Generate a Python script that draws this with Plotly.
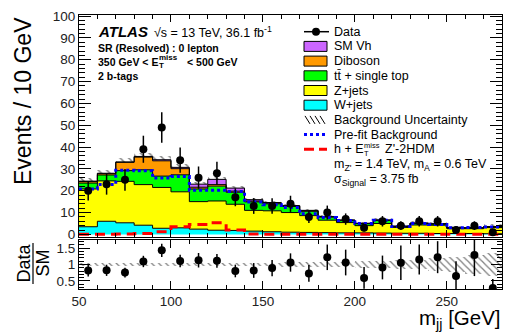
import numpy as np
import plotly.graph_objects as go

# ---------------- data ----------------
edges = list(range(50, 290, 10))               # bin edges 50..280 GeV
centers = [e + 5 for e in edges[:-1]]          # bin centres

data = [20, 23, 25, 39, 49, 34, 26, 28, 17, 13, 13, 14, 8, 10, 7, 3, 6, 4, 6, 6, 2, 4, 1]
data_err = [4.5, 4.8, 5.0, 6.2, 7.0, 5.8, 5.1, 5.3, 4.1, 3.6, 3.6, 3.7, 2.8, 3.2, 2.6,
            1.7, 2.4, 2.0, 2.4, 2.4, 1.4, 2.0, 1.0]

w_jets = [3.5, 6.0, 5.3, 4.2, 2.8, 3.0, 2.4, 1.9, 1.8, 1.5, 1.2, 1.0, 0.9, 0.8, 0.7,
          0.7, 0.6, 0.5, 0.5, 0.4, 0.4, 0.4, 0.3]
z_jets = [17.3, 18.5, 19.0, 18.6, 18.7, 16.5, 12.6, 13.4, 12.0, 9.5, 9.6, 9.0, 7.7, 5.7, 4.7,
          3.3, 4.4, 2.7, 3.8, 3.8, 2.2, 2.2, 2.8]
ttbar = [2.7, 2.7, 4.9, 6.8, 5.2, 7.8, 5.8, 6.8, 5.5, 3.9, 3.2, 2.8, 2.0, 1.4, 0.9,
         0.9, 1.4, 0.4, 0.7, 0.5, 0.3, 0.3, 0.3]
diboson = [0.7, 0.6, 3.8, 5.8, 7.0, 2.8, 0.8, 0.7, 0.5, 0.4, 0.3, 0.2, 0.2, 0.2, 0.2,
           0.1, 0.1, 0.1, 0.1, 0.1, 0.1, 0.1, 0.1]
sm_vh = [0.2, 0.2, 0.2, 0.3, 0.5, 0.6, 1.4, 2.4, 1.4, 0.6, 0.3, 0.2, 0.2, 0.1, 0.1,
         0.1, 0.1, 0.1, 0.1, 0.1, 0.1, 0.1, 0.1]
prefit = [20.8, 22.8, 29.4, 29.2, 25.8, 26.5, 20.2, 20.2, 19.6, 14.8, 13.6, 12.3, 9.5, 7.7, 6.4,
          5.0, 6.5, 3.6, 5.0, 4.5, 3.0, 3.2, 3.4]
signal = [0.1, 0.1, 0.2, 0.4, 1.2, 3.5, 4.5, 5.3, 2.0, 0.2, 0.1, 0.1, 0.1, 0.1, 0.1,
          0.1, 0.1, 0.1, 0.1, 0.1, 0.1, 0.1, 0.1]
bkg_rel_unc = [0.05, 0.05, 0.05, 0.05, 0.05, 0.05, 0.05, 0.05, 0.055, 0.06, 0.06, 0.065,
               0.07, 0.08, 0.09, 0.10, 0.12, 0.13, 0.15, 0.19, 0.24, 0.30, 0.34]

x_ticks = [50, 100, 150, 200, 250]

# ---------------- styling / geometry ----------------
W, H = 508, 333
L, R, T, B = 79, 502, 15, 289
FONT = "Liberation Sans, Arial, Helvetica, sans-serif"


def px(x):
    return (x - L) / (R - L)


def py(y):
    return (B - y) / (B - T)


def step(v):
    v = list(v)
    return v + [v[-1]]


fig = go.Figure()

# stacked backgrounds (bottom -> top)
comps = [(w_jets, "#00ffff"), (z_jets, "#ffff00"), (ttbar, "#00ff00"),
         (diboson, "#ff9900"), (sm_vh, "#cc66ff")]
cum = np.zeros(len(centers))
for i, (vals, col) in enumerate(comps):
    cum = cum + np.array(vals)
    fig.add_trace(go.Scatter(
        x=edges, y=step(cum), mode="lines",
        line=dict(color="black", width=1, shape="hv"),
        fill="tozeroy" if i == 0 else "tonexty", fillcolor=col,
        xaxis="x", yaxis="y", showlegend=False, hoverinfo="skip"))
total = cum
unc_abs = total * np.array(bkg_rel_unc)

# background uncertainty (hatched)
hatch = dict(shape="\\", fgcolor="black", bgcolor="rgba(0,0,0,0)", size=6, solidity=0.25)
fig.add_trace(go.Bar(
    x=centers, y=2 * unc_abs, base=total - unc_abs, width=10,
    marker=dict(color="rgba(0,0,0,0)", line=dict(width=0), pattern=hatch),
    xaxis="x", yaxis="y", showlegend=False, hoverinfo="skip"))

# pre-fit background
fig.add_trace(go.Scatter(
    x=edges, y=step(prefit), mode="lines",
    line=dict(color="#0000ff", width=3, dash="dot", shape="hv"),
    xaxis="x", yaxis="y", showlegend=False, hoverinfo="skip"))

# signal
fig.add_trace(go.Scatter(
    x=edges, y=step(signal), mode="lines",
    line=dict(color="#ff0000", width=3, dash="10px,6px", shape="hv"),
    xaxis="x", yaxis="y", showlegend=False, hoverinfo="skip"))

# data
fig.add_trace(go.Scatter(
    x=centers, y=data, mode="markers",
    marker=dict(color="black", size=8),
    error_y=dict(type="data", array=data_err, color="black", thickness=1.5, width=0),
    xaxis="x", yaxis="y", showlegend=False))

# ratio panel
hatch_r = dict(shape="\\", fgcolor="black", bgcolor="rgba(0,0,0,0)", size=5, solidity=0.25)
rel = np.array(bkg_rel_unc)
fig.add_trace(go.Bar(
    x=centers, y=2 * rel, base=1 - rel, width=10,
    marker=dict(color="rgba(0,0,0,0)", line=dict(width=0), pattern=hatch_r),
    xaxis="x2", yaxis="y2", showlegend=False, hoverinfo="skip"))
ratio = np.array(data) / total
ratio_err = np.array(data_err) / total
fig.add_trace(go.Scatter(
    x=centers, y=ratio, mode="markers",
    marker=dict(color="black", size=8),
    error_y=dict(type="data", array=ratio_err, color="black", thickness=1.5, width=0),
    xaxis="x2", yaxis="y2", showlegend=False))

# ---------------- axes ----------------
common = dict(showline=True, linecolor="black", linewidth=1, mirror="allticks",
              ticks="inside", tickcolor="black", tickwidth=1, showgrid=False,
              zeroline=False, tickfont=dict(family=FONT, size=13.5, color="#222"))

fig.update_layout(
    width=W, height=H,
    margin=dict(l=L, r=W - R, t=T, b=H - B, pad=0),
    paper_bgcolor="white", plot_bgcolor="white",
    barmode="overlay", bargap=0,
    font=dict(family=FONT, color="black"),
    xaxis=dict(common, domain=[0, 1], range=[50, 280], tickvals=x_ticks, ticklen=7,
               minor=dict(dtick=10, tick0=50, ticklen=4, ticks="inside", tickcolor="black"),
               showticklabels=False, anchor="y"),
    yaxis=dict(common, domain=[py(237), 1], range=[-1.2, 100.5], tick0=0, dtick=10, ticklen=12,
               minor=dict(dtick=2, tick0=0, ticklen=6, ticks="inside", tickcolor="black"),
               anchor="x"),
    xaxis2=dict(common, domain=[0, 1], range=[50, 280], tickvals=x_ticks, ticklen=8,
                minor=dict(dtick=10, tick0=50, ticklen=4, ticks="inside", tickcolor="black"),
                anchor="y2", matches="x"),
    yaxis2=dict(common, domain=[0, py(240)], range=[0.25, 1.75], tick0=0.5, dtick=0.5,
                ticklen=11, minor=dict(dtick=0.1, tick0=0, ticklen=5, ticks="inside",
                                       tickcolor="black"),
                anchor="x2"),
)

annots = []
shapes = []


def text(x, y, s, size, xanchor="left", angle=0, color="black", yanchor="middle"):
    annots.append(dict(x=px(x), y=py(y), xref="paper", yref="paper", text=s,
                       showarrow=False, xanchor=xanchor, yanchor=yanchor,
                       textangle=angle, borderpad=0,
                       font=dict(family=FONT, size=size, color=color)))


# axis titles
text(23, 101, "Events / 10 GeV", 23, xanchor="center", angle=-90)
text(502, 333, "m<sub>jj</sub> [GeV]", 20.5, xanchor="right", yanchor="bottom")
text(23.5, 263, "Data", 18, xanchor="center", angle=-90)
text(42.5, 263, "SM", 18, xanchor="center", angle=-90)
shapes.append(dict(type="line", xref="paper", yref="paper", x0=px(33), x1=px(33),
                   y0=py(243), y1=py(284), line=dict(color="black", width=1.2)))

# ATLAS labels
text(97, 31.5, "<b><i>ATLAS</i></b>", 15)
text(153, 32, "√s = 13 TeV, 36.1 fb<sup>-1</sup>", 12.5)
text(97, 48, "<b>SR (Resolved) : 0 lepton</b>", 10.5)
text(97, 62, "<b>350 GeV &lt; E</b>", 10.5)
text(158, 57.5, "<b>miss</b>", 8)
text(158, 65.5, "<b>T</b>", 8)
text(186, 62, "<b>&lt; 500 GeV</b>", 10.5)
text(97, 76, "<b>2 b-tags</b>", 10.5)

# legend
y0, dy = 31.7, 14.7
ly = [y0 + i * dy for i in range(11)]
bx0, bx1 = 304, 327
# Data
shapes.append(dict(type="line", xref="paper", yref="paper", x0=px(bx0), x1=px(bx1 + 2),
                   y0=py(ly[0]), y1=py(ly[0]), line=dict(color="black", width=1.5)))
shapes.append(dict(type="circle", xref="paper", yref="paper", x0=px(312), x1=px(320),
                   y0=py(ly[0] - 4), y1=py(ly[0] + 4), fillcolor="black",
                   line=dict(color="black", width=0)))
text(333, ly[0], "Data", 12.5)
leg_fill = [("SM Vh", "#cc66ff"), ("Diboson", "#ff9900"), ("tt\u0304 + single top", "#00ff00"),
            ("Z+jets", "#ffff00"), ("W+jets", "#00ffff")]
for i, (lab, col) in enumerate(leg_fill):
    yc = ly[i + 1]
    shapes.append(dict(type="rect", xref="paper", yref="paper", x0=px(bx0), x1=px(bx1),
                       y0=py(yc - 5), y1=py(yc + 5), fillcolor=col,
                       line=dict(color="black", width=1)))
    text(333, yc, lab, 12.5)
# Background uncertainty
yc = ly[6]
for xs in [305, 310, 315, 320]:
    shapes.append(dict(type="line", xref="paper", yref="paper", x0=px(xs), x1=px(xs + 5),
                       y0=py(yc - 4), y1=py(yc + 4), line=dict(color="black", width=1)))
text(333, yc, "Background Uncertainty", 12.5)
# Pre-fit
yc = ly[7]
shapes.append(dict(type="line", xref="paper", yref="paper", x0=px(bx0), x1=px(bx1),
                   y0=py(yc), y1=py(yc), line=dict(color="#0000ff", width=3, dash="dot")))
text(333, yc, "Pre-fit Background", 12.5)
# Signal
yc = ly[8]
shapes.append(dict(type="line", xref="paper", yref="paper", x0=px(bx0), x1=px(bx1),
                   y0=py(yc), y1=py(yc), line=dict(color="#ff0000", width=3, dash="10px,5px")))
text(333, yc, "h + E", 12.5)
text(363, yc - 4, "miss", 7.5)
text(363, yc + 4, "T", 7.5)
text(384, yc, "Z'-2HDM", 12.5)
text(333, ly[9] + 1, "m<sub>Z'</sub> = 1.4 TeV, m<sub>A</sub> = 0.6 TeV", 12.5)
text(333, ly[10] + 1, "σ<sub>Signal</sub> = 3.75 fb", 12.5)

fig.update_layout(annotations=annots, shapes=shapes)
fig.write_html("out.html", config={"displayModeBar": False},
               post_script="document.body.style.margin='0';document.body.style.padding='0';")
